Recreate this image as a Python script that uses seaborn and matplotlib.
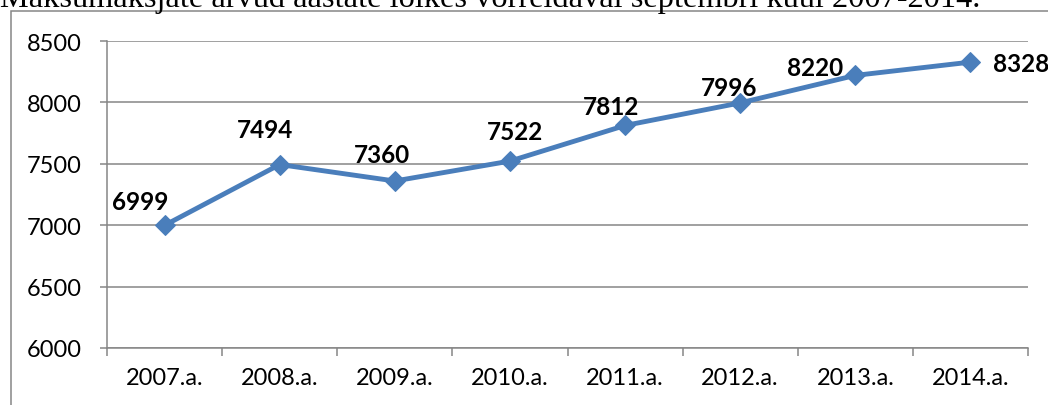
import matplotlib
matplotlib.use("Agg")
import matplotlib.pyplot as plt
from matplotlib.patches import Rectangle
import seaborn as sns
import pandas as pd

# data
years = ['2007.a.', '2008.a.', '2009.a.', '2010.a.', '2011.a.', '2012.a.', '2013.a.', '2014.a.']
taxpayers = [6999, 7494, 7360, 7522, 7812, 7996, 8220, 8328]
y_ticks = [6000, 6500, 7000, 7500, 8000, 8500]
title = 'Maksumaksjate arvud aastate lõikes võrreldaval septembri kuul 2007-2014.'

# where each value label sits relative to its marker (pixels)
label_dx = [-24, -15, -13, 5, -14, -11, -40, 51]
label_dy = [24, 35, 26, 30, 19, 15, 8, -1]

sns.set_theme(style='white')
plt.rcParams['font.family'] = ['Lato', 'DejaVu Sans']

line_col = '#4A7EBB'
grey = '#868686'

df = pd.DataFrame({'aasta': years, 'arv': taxpayers})

W, H = 1048, 406
fig = plt.figure(figsize=(W / 100, H / 100), dpi=100)
ax = fig.add_axes([107 / W, 1 - 349 / H, (1028 - 107) / W, (349 - 42) / H])

sns.lineplot(data=df, x='aasta', y='arv', ax=ax, color=line_col, lw=3.5,
             marker='D', markersize=10, markeredgecolor=line_col, sort=False, zorder=3)

for i, v in enumerate(taxpayers):
    ax.annotate(str(v), (i, v), xytext=(label_dx[i], label_dy[i]), textcoords='offset pixels',
                ha='center', va='center', fontsize=17.5, fontweight='bold', color='black')

ax.set_xlim(-0.5, len(years) - 0.5)
ax.set_ylim(y_ticks[0], y_ticks[-1])
ax.set_yticks(y_ticks)
ax.set_xticks(range(len(years)))
ax.set_xticklabels(years)
ax.set_xticks([i - 0.5 for i in range(len(years) + 1)], minor=True)
ax.set_xlabel('')
ax.set_ylabel('')

ax.set_axisbelow(True)
ax.yaxis.grid(True, color=grey, lw=1.1)
ax.xaxis.grid(False)
for s in ['top', 'right']:
    ax.spines[s].set_visible(False)
for s in ['left', 'bottom']:
    ax.spines[s].set_color(grey)
    ax.spines[s].set_linewidth(1.1)

ax.tick_params(axis='x', which='major', length=0, pad=14, labelsize=17, labelcolor='black')
ax.tick_params(axis='x', which='minor', length=5.5, width=1.1, color=grey, bottom=True)
ax.tick_params(axis='y', length=5, width=1.1, color=grey, left=True, pad=13,
               labelsize=17, labelcolor='black')

# chart frame, only its top-left corner is inside the picture
fig.patches.append(Rectangle((11 / W, -0.5), 2, 0.5 + 1 - 12 / H, transform=fig.transFigure,
                             fill=False, edgecolor=grey, lw=1.1, zorder=0))

# the caption above the chart is cut at the top edge in the reference too
fig.text(0, 1 - 7 / H, title, family='Liberation Serif', fontsize=23.3,
         ha='left', va='baseline', color='black')

fig.savefig('out.png', dpi=100)
